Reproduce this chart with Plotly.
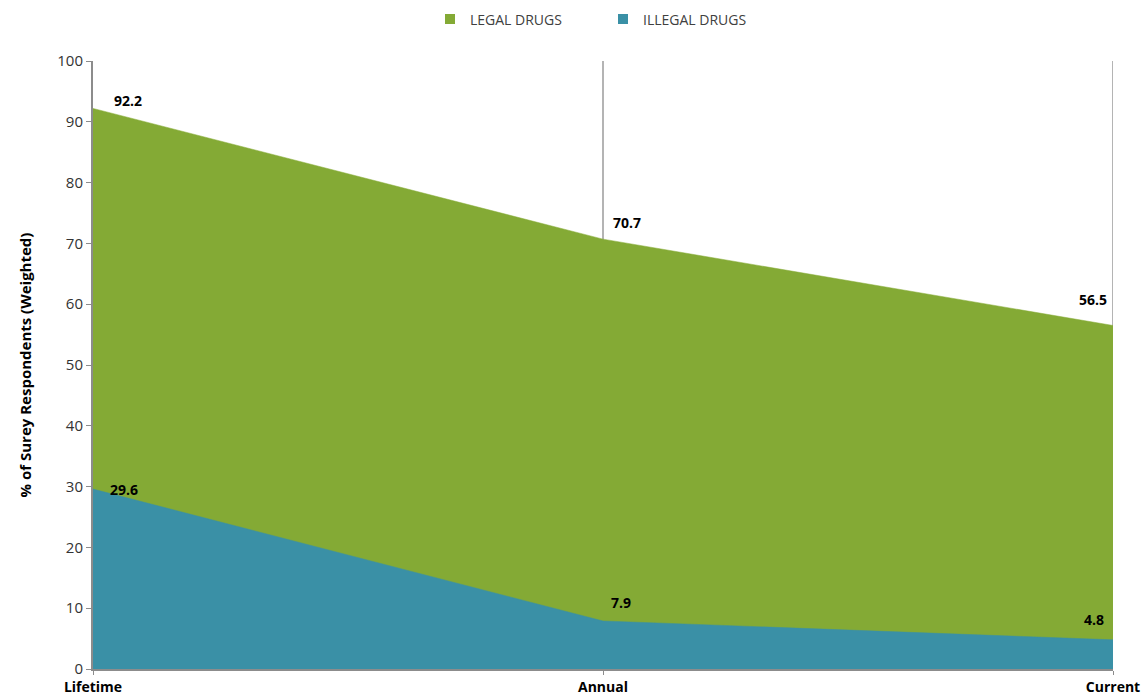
import plotly.graph_objects as go

categories = ["Lifetime", "Annual", "Current"]
legal = [92.2, 70.7, 56.5]
illegal = [29.6, 7.9, 4.8]
y_ticks = [0, 10, 20, 30, 40, 50, 60, 70, 80, 90, 100]

GREEN = "#84AA35"
TEAL = "#3A90A6"
FONT = "Open Sans"
GRID = "#8c8c8c"

xs = list(range(len(categories)))

fig = go.Figure()
fig.add_trace(go.Scatter(x=xs, y=legal, name="LEGAL DRUGS", mode="lines",
                         fill="tozeroy", fillcolor=GREEN, showlegend=False,
                         line=dict(color=GREEN, width=0.5)))
fig.add_trace(go.Scatter(x=xs, y=illegal, name="ILLEGAL DRUGS", mode="lines",
                         fill="tozeroy", fillcolor=TEAL, showlegend=False,
                         line=dict(color=TEAL, width=0.5)))
# legend entries with square swatches
for name, col in [("LEGAL DRUGS", GREEN), ("ILLEGAL DRUGS", TEAL)]:
    fig.add_trace(go.Scatter(x=[None], y=[None], name=name, mode="markers",
                             marker=dict(symbol="square", size=10, color=col)))

# vertical category lines
for xv in xs[1:]:
    fig.add_shape(type="line", xref="x", yref="y", x0=xv, x1=xv, y0=0, y1=100,
                  line=dict(color=GRID, width=1.3), layer="below")

legal_shift = [(35, 8), (24, 17), (-20, 26)]
illegal_shift = [(31, 0), (18, 18), (-19, 20)]
for i, v in enumerate(legal):
    fig.add_annotation(x=xs[i], y=v, text=f"<b>{v}</b>", showarrow=False,
                       xshift=legal_shift[i][0], yshift=legal_shift[i][1],
                       font=dict(family=FONT, size=14, color="black"))
for i, v in enumerate(illegal):
    fig.add_annotation(x=xs[i], y=v, text=f"<b>{v}</b>", showarrow=False,
                       xshift=illegal_shift[i][0], yshift=illegal_shift[i][1],
                       font=dict(family=FONT, size=14, color="black"))

fig.update_layout(
    width=1147, height=700,
    margin=dict(l=93, r=34, t=61, b=31),
    plot_bgcolor="white", paper_bgcolor="white",
    font=dict(family=FONT, size=15, color="#333333"),
    showlegend=True,
    legend=dict(orientation="h", x=0.5, xanchor="center", y=0.995, yanchor="top",
                yref="container", font=dict(family=FONT, size=14, color="#404040"),
                traceorder="normal", itemwidth=30, entrywidth=128,
                entrywidthmode="pixels"),
    xaxis=dict(
        range=[0, 2], tickmode="array", tickvals=xs, ticktext=[f"<b>{c}</b>" for c in categories],
        showgrid=False, automargin=False,
        showline=True, linecolor=GRID, linewidth=2,
        ticks="outside", ticklen=4, tickcolor=GRID,
        tickfont=dict(family=FONT, size=14, color="black"), zeroline=False,
    ),
    yaxis=dict(
        range=[0, 100], tickmode="array", tickvals=y_ticks, automargin=False,
        showgrid=False, showline=True, linecolor=GRID, linewidth=2,
        ticks="outside", ticklen=5, tickcolor=GRID,
        tickfont=dict(family=FONT, size=15, color="#333333"), zeroline=False,
        title=dict(text="<b>% of Surey Respondents (Weighted)</b>",
                   font=dict(family=FONT, size=15, color="black"), standoff=22),
    ),
)

fig.write_html("out.html")
